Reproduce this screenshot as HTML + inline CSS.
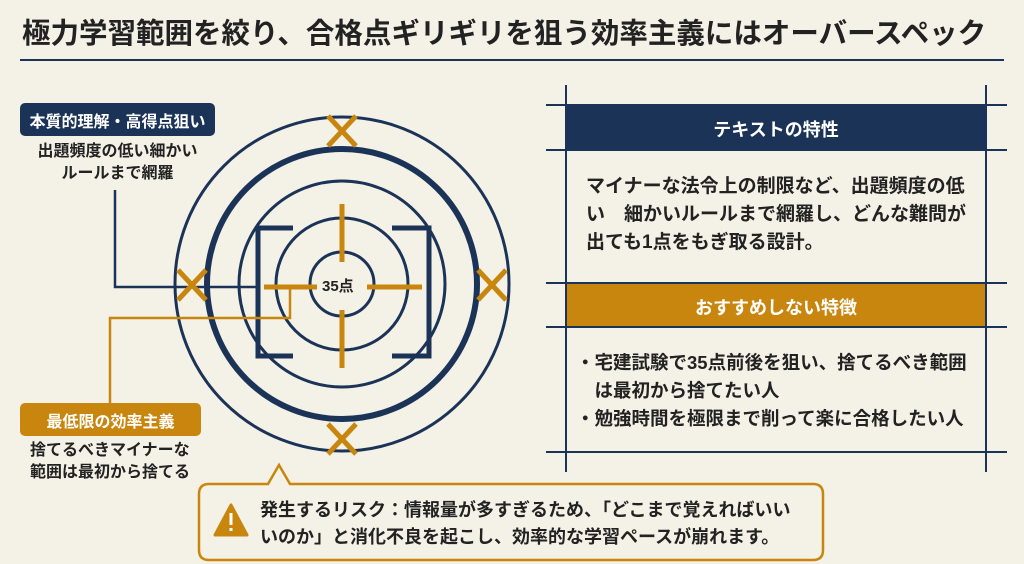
<!DOCTYPE html>
<html><head><meta charset="utf-8"><style>
body{margin:0;width:1024px;height:564px;background:#f4f1e6;font-family:"Liberation Sans","Noto Sans CJK JP",sans-serif;position:relative;overflow:hidden;color:#222;}
.a{position:absolute;white-space:nowrap;font-weight:bold;}
</style></head><body>
<div class="a" style="left:22px;top:11px;font-size:28.5px;color:#222;">極力学習範囲を絞り、合格点ギリギリを狙う効率主義にはオーバースペック</div>
<svg width="1024" height="564" style="position:absolute;left:0;top:0">
<line x1="20" y1="60" x2="1004" y2="60" stroke="#1c3358" stroke-width="2"/>
<g fill="none" stroke="#1c3358">
<circle cx="342" cy="284" r="167" stroke-width="3"/>
<circle cx="342" cy="284" r="135" stroke-width="6"/>
<circle cx="342" cy="284" r="103" stroke-width="3"/>
<circle cx="342" cy="284" r="66" stroke-width="3"/>
<circle cx="342" cy="284" r="32" stroke-width="3"/>
<path d="M293 228 H258 V356 H293 M392 228 H429 V356 H392" stroke-width="5"/>
<path d="M115 190 V287 H258" stroke-width="2.5"/>
</g>
<g stroke="#c8860f" stroke-width="5" fill="none">
<path d="M342 204 V262 M342 310 V368 M264 287 H317 M367 287 H422"/>
<path d="M290 287 V318 H110 V403" stroke-width="2.5"/>
<path d="M328 116 L356 146 M356 116 L328 146"/>
<path d="M178 270 L206 300 M206 270 L178 300"/>
<path d="M478 270 L506 300 M506 270 L478 300"/>
<path d="M328 424 L356 454 M356 424 L328 454"/>
</g>
<g stroke="#1c3358" stroke-width="2">
<line x1="566" y1="85" x2="566" y2="472"/><line x1="986" y1="85" x2="986" y2="472"/>
<line x1="546" y1="105" x2="1007" y2="105"/><line x1="546" y1="150" x2="1007" y2="150"/>
<line x1="546" y1="283" x2="1007" y2="283"/><line x1="546" y1="327" x2="1007" y2="327"/>
<line x1="546" y1="452" x2="1007" y2="452"/>
</g>
<rect x="567" y="106" width="418" height="43" fill="#1c3358"/>
<rect x="567" y="284" width="418" height="42" fill="#c8860f"/>
<rect x="20" y="103" width="195" height="33" rx="5" fill="#1c3358"/>
<rect x="20" y="403" width="181" height="33" rx="5" fill="#c8860f"/>
<path d="M209 484 H268 L279 465 L290 484 H813 Q823 484 823 494 V550 Q823 560 813 560 H209 Q199 560 199 550 V494 Q199 484 209 484 Z" fill="#f4f1e6" stroke="#c8860f" stroke-width="2.5"/>
<path d="M231 505 L247 535 H215 Z" fill="#c8860f" stroke="#c8860f" stroke-width="3" stroke-linejoin="round"/>
<rect x="229.5" y="513" width="3" height="12" fill="#fff"/><rect x="229.5" y="528" width="3" height="3" fill="#fff"/>
</svg>
<div class="a" style="left:20px;top:108px;font-size:16px;color:#fff;width:195px;text-align:center;">本質的理解・高得点狙い</div>
<div class="a" style="left:25px;top:141px;font-size:16px;line-height:22px;text-align:center;width:185px;">出題頻度の低い細かい<br>ルールまで網羅</div>
<div class="a" style="left:20px;top:408px;font-size:16px;color:#fff;width:181px;text-align:center;">最低限の効率主義</div>
<div class="a" style="left:30px;top:440px;font-size:16px;line-height:22px;">捨てるべきマイナーな<br>範囲は最初から捨てる</div>
<div class="a" style="left:322px;top:275px;font-size:15px;">35点</div>
<div class="a" style="left:567px;top:116px;width:418px;text-align:center;font-size:18px;color:#fff;">テキストの特性</div>
<div class="a" style="left:586px;top:173px;font-size:19px;line-height:28px;">マイナーな法令上の制限など、出題頻度の低<br>い　細かいルールまで網羅し、どんな難問が<br>出ても1点をもぎ取る設計。</div>
<div class="a" style="left:567px;top:294px;width:418px;text-align:center;font-size:18px;color:#fff;">おすすめしない特徴</div>
<div class="a" style="left:576px;top:349px;font-size:18.5px;line-height:28px;">・宅建試験で35点前後を狙い、捨てるべき範囲<br>　は最初から捨てたい人<br>・勉強時間を極限まで削って楽に合格したい人</div>
<div class="a" style="left:260px;top:497px;font-size:18px;line-height:27px;">発生するリスク：情報量が多すぎるため、「どこまで覚えればいい<br>いのか」と消化不良を起こし、効率的な学習ペースが崩れます。</div>
</body></html>
